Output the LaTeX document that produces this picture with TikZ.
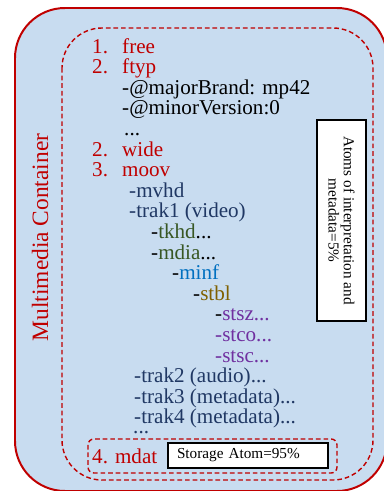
\documentclass[tikz,border=0pt]{standalone}
\usepackage{fontspec}
\setmainfont{Liberation Serif}
\definecolor{boxred}{HTML}{C00000}
\definecolor{bgblue}{HTML}{C8DCF0}
\definecolor{navy}{HTML}{203864}
\definecolor{tkgreen}{HTML}{385723}
\definecolor{mfblue}{HTML}{0070C0}
\definecolor{stolive}{HTML}{7F6000}
\definecolor{stpurple}{HTML}{7030A0}
\begin{document}
\begin{tikzpicture}[x=.3mm,y=-.3mm,
    txt/.style={anchor=base west, inner sep=0pt, font=\fontsize{18}{18}\selectfont},
    redline/.style={dashed, boxred, line width=1.2pt, dash pattern=on 4pt off 2.5pt},
    blackbox/.style={draw=black, line width=1.5pt, fill=white, font=\fontsize{13}{13}\selectfont}]
\useasboundingbox (0,0) rectangle (383,491);

\draw[boxred, line width=1.7pt, fill=bgblue, rounded corners=1.5cm](15,8) rectangle (387,491);
\draw[redline, rounded corners=1.2cm](62,28) rectangle (373,480);
\draw[redline, rounded corners=5pt](88,439) rectangle (337,473);

\node[rotate=90, boxred, font=\fontsize{20}{20}\selectfont] (mmc) at (40,237.5){Multimedia Container};

\node[txt, boxred] (n1) at (92,53){1.};
\node[txt, boxred] (free) at (122,53){free};
\node[txt, boxred] (n2) at (92,73.6){2.};
\node[txt, boxred] (ftyp) at (122,73.6){ftyp};
\node[txt] (major) at (122,94.2){-@majorBrand: mp42};
\node[txt] (minor) at (122,114.8){-@minorVersion:0};
\node[txt] (dotsA) at (124,135.4){...};
\node[txt, boxred] (n2b) at (92,156){2.};
\node[txt, boxred] (wide) at (122,156){wide};
\node[txt, boxred] (n3) at (92,176.6){3.};
\node[txt, boxred] (moov) at (122,176.6){moov};

\node[txt, navy] (mvhd) at (129,197.2){-mvhd};
\node[txt, navy] (trakA) at (129,217.8){-trak1 (video)};
\node[txt] (tkhd) at (151,238.4){-\textcolor{tkgreen}{tkhd}...};
\node[txt] (mdia) at (151,259){-\textcolor{tkgreen}{mdia}...};
\node[txt] (minf) at (172,279.6){-\textcolor{mfblue}{minf}};
\node[txt] (stbl) at (193,300.2){-\textcolor{stolive}{stbl}};
\node[txt] (stsz) at (215,320.8){-\textcolor{stpurple}{stsz...}};
\node[txt, stpurple] (stco) at (215,341.4){-stco...};
\node[txt, stpurple] (stsc) at (215,362){-stsc...};
\node[txt, navy] (trakB) at (134,382.6){-trak2 (audio)...};
\node[txt, navy] (trakC) at (134,403.2){-trak3 (metadata)...};
\node[txt, navy] (trakD) at (134,423.8){-trak4 (metadata)...};
\node[txt, navy] (dotsB) at (133,433){...};

\node[blackbox, rotate=-90, minimum width=6.03cm, minimum height=1.47cm, align=center] (atoms) at (341.5,220.5){Atoms of interpretation and\\metadata=5\%};

\node[txt, boxred] (mdat) at (92,463){4. mdat};
\node[blackbox, minimum width=4.8cm, minimum height=.75cm, inner xsep=.27cm, text width=4.26cm, align=left] (storage) at (248,455.5){Storage Atom=95\%};

\end{tikzpicture}
\end{document}
